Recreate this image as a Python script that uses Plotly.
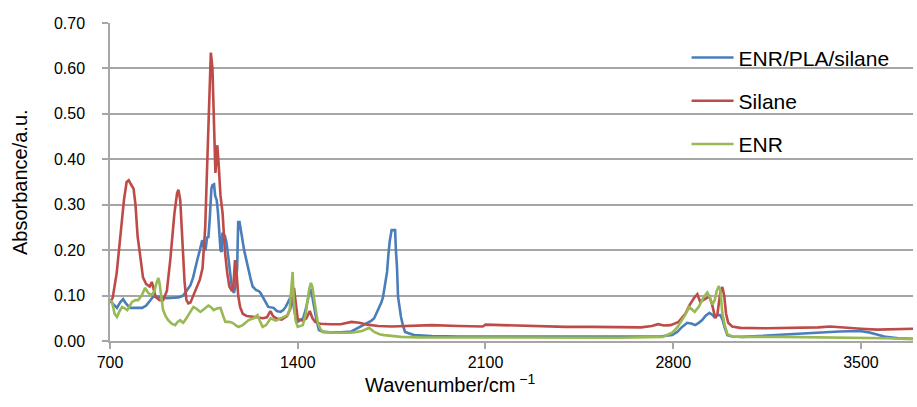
import plotly.graph_objects as go

# ENR/PLA/silane (blue)
blue_x = [700,712,726,738,749,760,775,800,820,835,848,860,875,890,910,932,955,973,985,1000,1010,1018,1026,1035,1044,1050,1056,1062,1067,1072,1078,1082,1088,1092,1098,1103,1108,1112,1116,1119,1128,1134,1140,1145,1150,1155,1162,1168,1174,1178,1183,1188,1194,1200,1205,1212,1217,1225,1232,1245,1255,1262,1270,1280,1290,1310,1322,1336,1346,1355,1366,1377,1385,1393,1400,1412,1420,1430,1437,1445,1450,1456,1462,1470,1479,1495,1520,1560,1600,1628,1650,1662,1675,1685,1695,1704,1712,1718,1726,1733,1738,1743,1750,1763,1766,1770,1774,1780,1785,1792,1800,1834,1900,2000,2200,2400,2600,2750,2796,2815,2833,2852,2870,2882,2895,2908,2920,2935,2945,2953,2965,2976,2985,2991,3002,3020,3058,3150,3245,3300,3369,3420,3496,3530,3556,3593,3640,3694]
blue_y = [0.088,0.08,0.073,0.085,0.092,0.082,0.073,0.073,0.073,0.078,0.087,0.097,0.098,0.097,0.094,0.095,0.096,0.10,0.11,0.123,0.14,0.157,0.18,0.20,0.222,0.205,0.20,0.228,0.229,0.27,0.335,0.343,0.345,0.32,0.31,0.28,0.24,0.2,0.196,0.238,0.232,0.218,0.19,0.16,0.13,0.115,0.106,0.12,0.16,0.262,0.262,0.24,0.222,0.20,0.185,0.17,0.156,0.135,0.12,0.112,0.11,0.105,0.097,0.085,0.075,0.073,0.066,0.064,0.068,0.075,0.09,0.101,0.075,0.05,0.042,0.046,0.05,0.07,0.09,0.112,0.112,0.09,0.07,0.045,0.024,0.02,0.019,0.019,0.021,0.03,0.036,0.04,0.045,0.05,0.062,0.072,0.085,0.097,0.125,0.152,0.19,0.22,0.244,0.244,0.2,0.163,0.097,0.07,0.053,0.035,0.02,0.013,0.011,0.01,0.01,0.009,0.009,0.01,0.013,0.02,0.031,0.04,0.038,0.035,0.04,0.046,0.055,0.062,0.058,0.053,0.057,0.057,0.045,0.031,0.013,0.01,0.009,0.012,0.015,0.018,0.02,0.021,0.022,0.019,0.015,0.009,0.006,0.005]

# Silane (red)
red_x = [700,710,725,740,752,762,770,778,788,795,803,812,823,835,848,856,862,870,885,898,912,925,940,950,955,962,970,978,985,992,1000,1010,1020,1035,1045,1055,1063,1070,1076,1082,1088,1093,1097,1100,1105,1112,1120,1128,1137,1145,1155,1160,1166,1172,1178,1185,1195,1210,1240,1270,1285,1298,1308,1320,1340,1360,1372,1380,1386,1392,1400,1420,1432,1445,1455,1465,1485,1520,1560,1600,1630,1660,1700,1750,1800,1900,2000,2090,2100,2200,2300,2400,2500,2600,2680,2720,2744,2765,2790,2820,2845,2862,2878,2890,2900,2912,2935,2945,2957,2965,2975,2983,2990,2997,3005,3020,3050,3150,3250,3340,3385,3420,3500,3560,3620,3694]
red_y = [0.085,0.095,0.15,0.24,0.31,0.35,0.354,0.345,0.335,0.30,0.23,0.19,0.14,0.125,0.12,0.13,0.115,0.097,0.09,0.09,0.11,0.18,0.28,0.325,0.333,0.31,0.22,0.13,0.09,0.083,0.085,0.10,0.115,0.135,0.16,0.25,0.40,0.55,0.635,0.60,0.46,0.37,0.40,0.431,0.39,0.32,0.28,0.20,0.15,0.12,0.11,0.12,0.178,0.15,0.10,0.075,0.06,0.055,0.053,0.05,0.052,0.066,0.055,0.05,0.047,0.055,0.07,0.105,0.117,0.08,0.048,0.045,0.05,0.066,0.05,0.042,0.038,0.037,0.037,0.042,0.04,0.036,0.033,0.032,0.033,0.035,0.033,0.032,0.036,0.034,0.032,0.031,0.031,0.03,0.03,0.033,0.037,0.034,0.035,0.042,0.06,0.08,0.095,0.103,0.087,0.09,0.098,0.08,0.05,0.06,0.105,0.119,0.1,0.06,0.04,0.032,0.029,0.028,0.029,0.03,0.032,0.03,0.027,0.025,0.026,0.027]

# ENR (green)
green_x = [700,708,717,726,735,745,755,764,772,782,795,805,818,831,840,850,858,865,872,880,884,890,898,907,917,930,943,952,962,968,973,985,998,1011,1020,1037,1050,1067,1078,1086,1100,1112,1122,1130,1145,1157,1168,1179,1195,1217,1235,1250,1258,1269,1282,1299,1318,1335,1350,1362,1370,1377,1381,1385,1392,1400,1419,1430,1437,1443,1449,1455,1460,1468,1475,1485,1494,1550,1600,1640,1666,1685,1705,1722,1740,1785,1850,2000,2200,2400,2600,2760,2796,2815,2833,2845,2860,2870,2880,2895,2912,2927,2937,2946,2955,2962,2970,2976,2983,2992,3002,3020,3058,3200,3400,3500,3600,3694]
green_y = [0.09,0.085,0.06,0.053,0.065,0.075,0.072,0.068,0.075,0.086,0.09,0.09,0.1,0.117,0.108,0.101,0.104,0.108,0.125,0.139,0.13,0.1,0.068,0.055,0.046,0.038,0.035,0.042,0.046,0.042,0.04,0.05,0.062,0.075,0.072,0.064,0.07,0.078,0.074,0.068,0.072,0.073,0.055,0.042,0.042,0.04,0.035,0.031,0.035,0.046,0.05,0.057,0.045,0.031,0.035,0.05,0.045,0.05,0.053,0.057,0.07,0.112,0.152,0.09,0.045,0.031,0.035,0.06,0.09,0.115,0.128,0.118,0.097,0.06,0.04,0.026,0.02,0.018,0.018,0.022,0.029,0.02,0.015,0.013,0.012,0.009,0.008,0.008,0.008,0.007,0.007,0.009,0.018,0.03,0.046,0.058,0.075,0.07,0.064,0.075,0.095,0.107,0.095,0.08,0.09,0.11,0.121,0.11,0.062,0.035,0.015,0.01,0.009,0.009,0.008,0.007,0.006,0.004]

series_names = ["ENR/PLA/silane", "Silane", "ENR"]
series_colors = ["#4A7EBB", "#BE4B48", "#98B954"]
x_ticks = [700, 1400, 2100, 2800, 3500]
y_ticks = [0.0, 0.1, 0.2, 0.3, 0.4, 0.5, 0.6, 0.7]

FONT = "Liberation Sans, Arial, sans-serif"

fig = go.Figure()
for i, (xs, ys) in enumerate([(blue_x, blue_y), (red_x, red_y), (green_x, green_y)]):
    fig.add_trace(go.Scatter(
        x=xs, y=ys, mode="lines", name=series_names[i],
        line=dict(color=series_colors[i], width=2.6),
        legendgroup=f"g{i}",
    ))

grid_col = "#A6A6A6"
fig.update_layout(
    width=917, height=407,
    margin=dict(l=110, r=4, t=23, b=66),
    paper_bgcolor="white", plot_bgcolor="white",
    font=dict(family=FONT, size=16, color="#000000"),
    showlegend=True,
    legend=dict(
        x=0.718, y=0.955, xanchor="left", yanchor="top",
        bgcolor="rgba(0,0,0,0)", font=dict(size=21, family=FONT),
        traceorder="grouped", tracegroupgap=13,
        itemwidth=42,
    ),
    xaxis=dict(
        range=[700, 3694], tickvals=x_ticks, ticktext=[str(v) for v in x_ticks],
        showgrid=False, zeroline=False,
        showline=True, linecolor=grid_col, linewidth=1.5,
        ticks="outside", ticklen=6, tickcolor=grid_col, tickwidth=1.5,
        tickfont=dict(size=16, family=FONT),
    ),
    yaxis=dict(
        range=[0, 0.70], tickvals=y_ticks, tickformat=".2f",
        showgrid=True, gridcolor=grid_col, gridwidth=1.5, zeroline=False,
        showline=True, linecolor=grid_col, linewidth=1.5,
        ticks="outside", ticklen=6, tickcolor=grid_col, tickwidth=1.5,
        tickfont=dict(size=16, family=FONT), ticklabelstandoff=14,
    ),
    annotations=[
        dict(text="Wavenumber/cm<sup> \u22121</sup>", xref="paper", yref="paper",
             x=0.423, y=-0.135, xanchor="center", yanchor="middle",
             showarrow=False, font=dict(size=20, family=FONT)),
        dict(text="Absorbance/a.u.", xref="paper", yref="paper",
             x=-0.112, y=0.5, xanchor="center", yanchor="middle", textangle=-90,
             showarrow=False, font=dict(size=20, family=FONT)),
    ],
)

fig.write_html("out.html")
